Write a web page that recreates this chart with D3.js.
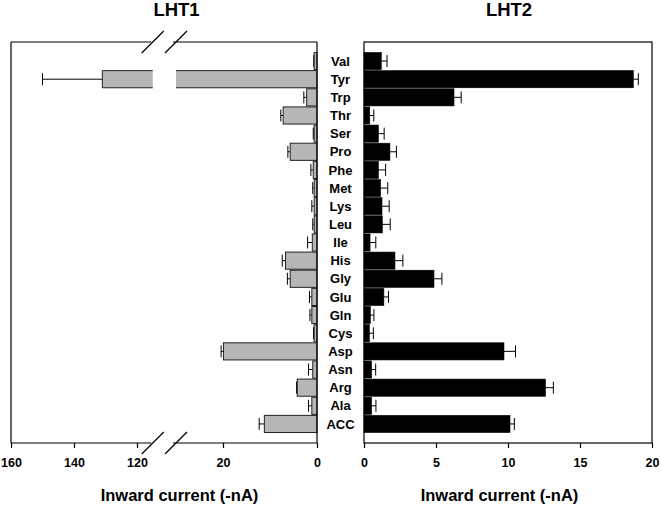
<!DOCTYPE html>
<html><head><meta charset="utf-8">
<script src="https://cdn.jsdelivr.net/npm/d3@7"></script>
<style>
body{margin:0;background:#fff;}
svg text{font-family:"Liberation Sans",Arial,sans-serif;font-weight:bold;fill:#000;}
</style></head>
<body><svg id="c" width="661" height="508"></svg>
<script>
const categories = ["Val","Tyr","Trp","Thr","Ser","Pro","Phe","Met","Lys","Leu","Ile","His","Gly","Glu","Gln","Cys","Asp","Asn","Arg","Ala","ACC"];
const lht1    = [0.6, 131, 2.2, 7.2, 0.6, 5.7, 0.8, 0.6, 0.6, 0.6, 1.0, 6.7, 5.7, 1.1, 1.1, 0.6, 19.9, 0.9, 4.2, 1.1, 11.2];
const lht1Err = [0.1, 19, 0.6, 0.5, 0.2, 0.5, 0.5, 0.3, 0.5, 0.3, 1.0, 0.7, 0.6, 0.5, 0.4, 0.15, 0.5, 0.9, 0.15, 0.7, 1.1];
const lht2    = [1.2, 18.7, 6.25, 0.4, 1.0, 1.8, 1.0, 1.15, 1.25, 1.27, 0.42, 2.15, 4.86, 1.38, 0.44, 0.37, 9.72, 0.53, 12.6, 0.53, 10.14];
const lht2Err = [0.4, 0.35, 0.5, 0.28, 0.4, 0.45, 0.5, 0.5, 0.5, 0.55, 0.4, 0.55, 0.55, 0.32, 0.25, 0.28, 0.8, 0.28, 0.55, 0.3, 0.3];
const leftTicksHigh = [160, 140, 120];
const leftTicksLow = [20, 0];
const rightTicks = [0, 5, 10, 15, 20];
const axisBreak = [30, 115];   // nA: low segment ends, high segment starts
const titles = ["LHT1", "LHT2"];
const axisTitle = "Inward current (-nA)";

const svg = d3.select("#c");
const yTop = 42, yBot = 443;
const y = d3.scaleBand().domain(categories).range([yTop, yBot]).paddingInner(0).paddingOuter(0.55);
const bw = y.bandwidth();

// Left panel scales (broken axis)
const L0 = 11, L1 = 317;
const xLow = d3.scaleLinear().domain([0, 20]).range([L1, 223]);
const xHigh = d3.scaleLinear().domain([160, 120]).range([L0, 137]);
const bLow = xLow(axisBreak[0]), bHigh = xHigh(axisBreak[1]);
const xL = v => v <= axisBreak[0] ? xLow(v) : xHigh(v);

// Right panel scale
const R0 = 364, R1 = 652;
const xR = d3.scaleLinear().domain([0, 20]).range([R0, R1]);

const gray = "#b6b6b6";
const capH = 12;

// Left bars
const gL = svg.append("g");
categories.forEach((c, i) => {
  const v = lht1[i], e = lht1Err[i];
  const yc = y(c) + bw / 2;
  const y0 = y(c) + 0.5, h = bw - 1;
  const xe = xL(v + e), xb = xL(v);
  gL.append("line").attr("x1", xb).attr("x2", xe).attr("y1", yc).attr("y2", yc).attr("stroke", "#000");
  gL.append("line").attr("x1", xe).attr("x2", xe).attr("y1", yc - capH/2).attr("y2", yc + capH/2).attr("stroke", "#000");
  if (v <= axisBreak[0]) {
    gL.append("rect").attr("x", xb).attr("y", y0).attr("width", L1 - xb).attr("height", h)
      .attr("fill", gray).attr("stroke", "#222").attr("stroke-width", 1);
  } else {
    gL.append("rect").attr("x", bLow).attr("y", y0).attr("width", L1 - bLow).attr("height", h).attr("fill", gray);
    gL.append("rect").attr("x", xb).attr("y", y0).attr("width", bHigh - xb).attr("height", h).attr("fill", gray);
    gL.append("path").attr("fill", "none").attr("stroke", "#222")
      .attr("d", `M${bLow},${y0}H${L1}V${y0+h}H${bLow}M${bHigh},${y0}H${xb}V${y0+h}H${bHigh}`);
  }
});

// Right bars
const gR = svg.append("g");
categories.forEach((c, i) => {
  const v = lht2[i], e = lht2Err[i];
  const yc = y(c) + bw / 2;
  const xe = xR(v + e), xb = xR(v);
  gR.append("line").attr("x1", xb).attr("x2", xe).attr("y1", yc).attr("y2", yc).attr("stroke", "#000");
  gR.append("line").attr("x1", xe).attr("x2", xe).attr("y1", yc - capH/2).attr("y2", yc + capH/2).attr("stroke", "#000");
  gR.append("rect").attr("x", R0).attr("y", y(c) + 0.5).attr("width", xb - R0).attr("height", bw - 1)
    .attr("fill", "#000").attr("stroke", "#000").attr("stroke-width", 0.6);
});

// Frames
const frame = svg.append("g").attr("fill", "none").attr("stroke", "#000").attr("stroke-width", 1.2);
const gap1 = bHigh - 1.5, gap2 = bLow - 3;
frame.append("path").attr("d",
  `M${L0},${yTop}V${yBot}M${L1},${yTop}V${yBot}` +
  `M${L0},${yTop}H${gap1}M${gap2},${yTop}H${L1}` +
  `M${L0},${yBot}H${gap1}M${gap2},${yBot}H${L1}`);
[yTop, yBot].forEach(yy => {
  [bHigh, bLow].forEach(xx => {
    frame.append("line").attr("x1", xx - 11).attr("y1", yy + 11).attr("x2", xx + 11).attr("y2", yy - 11);
  });
});
frame.append("rect").attr("x", R0).attr("y", yTop).attr("width", R1 - R0).attr("height", yBot - yTop);

// Axes
function styleAxis(g) {
  g.select(".domain").remove();
  g.selectAll(".tick line").attr("stroke", "#000").attr("stroke-width", 1.2);
  g.selectAll(".tick text").attr("font-size", "12.5px").attr("font-family", "Liberation Sans, Arial, sans-serif").attr("font-weight", "bold").attr("fill", "#000");
}
svg.append("g").attr("transform", `translate(0,${yBot})`)
  .call(d3.axisBottom(xHigh).tickValues(leftTicksHigh).tickSize(5).tickPadding(10).tickFormat(d3.format("d"))).call(styleAxis);
svg.append("g").attr("transform", `translate(0,${yBot})`)
  .call(d3.axisBottom(xLow).tickValues(leftTicksLow).tickSize(5).tickPadding(10).tickFormat(d3.format("d"))).call(styleAxis);
svg.append("g").attr("transform", `translate(0,${yBot})`)
  .call(d3.axisBottom(xR).tickValues(rightTicks).tickSize(5).tickPadding(10).tickFormat(d3.format("d"))).call(styleAxis);

// Category labels
svg.append("g").selectAll("text").data(categories).join("text")
  .attr("x", 340.5).attr("y", d => y(d) + bw / 2).attr("dy", "0.36em")
  .attr("text-anchor", "middle").attr("font-size", "13px").text(d => d);

// Titles
svg.append("text").attr("x", 176.5).attr("y", 16).attr("text-anchor", "middle").attr("font-size", "18.5px").text(titles[0]);
svg.append("text").attr("x", 509).attr("y", 16).attr("text-anchor", "middle").attr("font-size", "18.5px").text(titles[1]);
svg.append("text").attr("x", 179.5).attr("y", 501).attr("text-anchor", "middle").attr("font-size", "16.5px").text(axisTitle);
svg.append("text").attr("x", 499.5).attr("y", 501).attr("text-anchor", "middle").attr("font-size", "16.5px").text(axisTitle);
</script></body></html>
